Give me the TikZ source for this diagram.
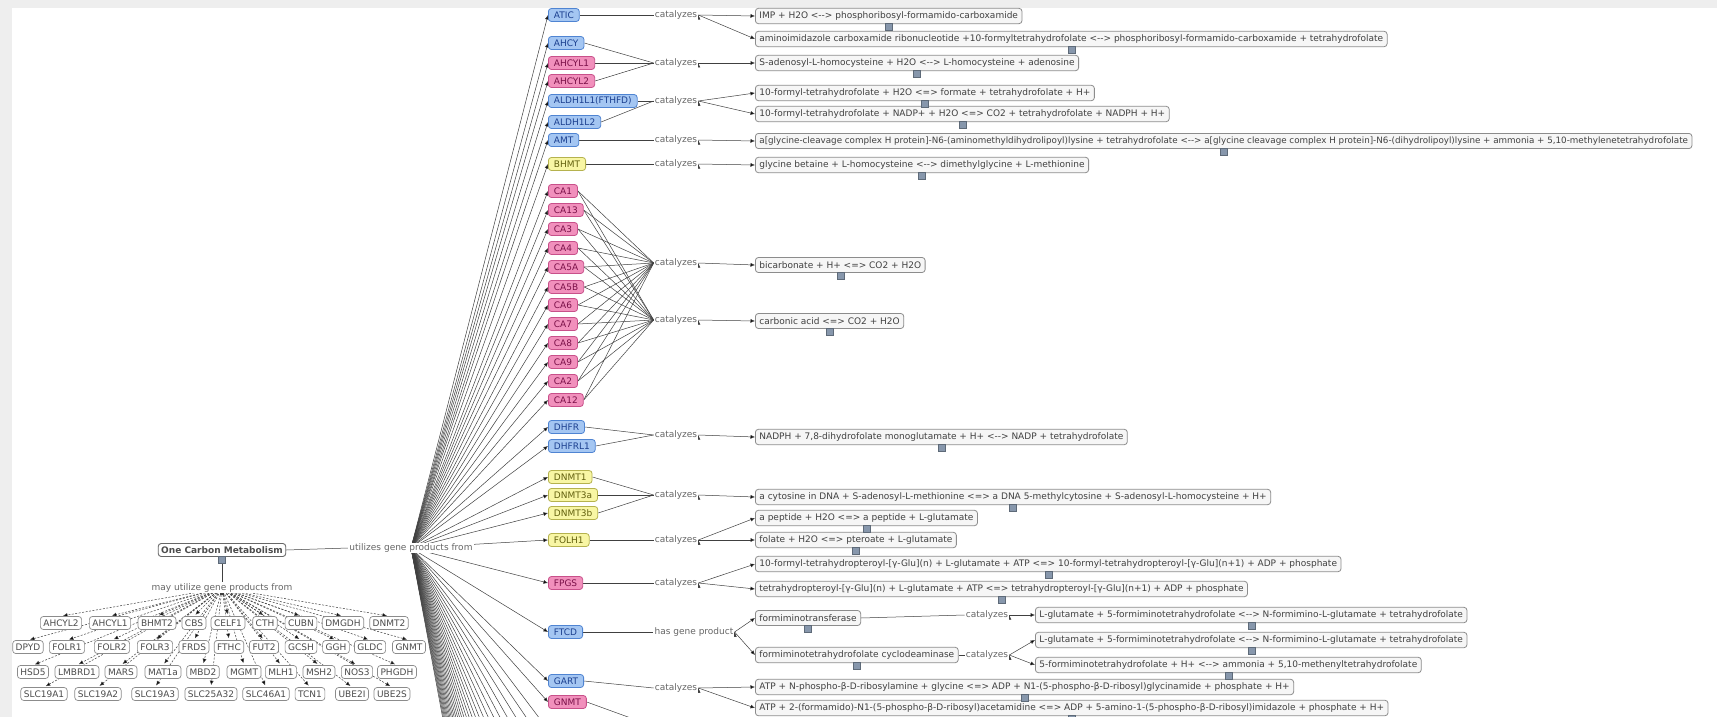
\documentclass[tikz,border=0pt]{standalone}
\usepackage{fontspec}
\setmainfont{DejaVu Sans}
\usetikzlibrary{arrows.meta}

\definecolor{pagegray}{HTML}{EEEEEE}
\definecolor{blueFill}{HTML}{A4C6F2}
\definecolor{blueLine}{HTML}{4F84D2}
\definecolor{blueText}{HTML}{1B3F8F}
\definecolor{pinkFill}{HTML}{F190BC}
\definecolor{pinkLine}{HTML}{C8508A}
\definecolor{pinkText}{HTML}{7A1048}
\definecolor{yellowFill}{HTML}{F8F6A4}
\definecolor{yellowLine}{HTML}{B5B24E}
\definecolor{yellowText}{HTML}{62600E}
\definecolor{rxnFill}{HTML}{F6F6F6}
\definecolor{rxnLine}{HTML}{8C8C8C}
\definecolor{iconFill}{HTML}{8797AC}

\pgfdeclarelayer{bg}
\pgfsetlayers{bg,main}

\newcommand{\rxarrow}{<-{}->}

\tikzset{
  gene/.style={draw, rounded corners=3pt, line width=0.8pt, minimum height=13pt, inner xsep=5.5pt, inner ysep=1.5pt, anchor=west},
  bluegene/.style={gene, fill=blueFill, draw=blueLine, text=blueText},
  pinkgene/.style={gene, fill=pinkFill, draw=pinkLine, text=pinkText},
  yellowgene/.style={gene, fill=yellowFill, draw=yellowLine, text=yellowText},
  othergene/.style={draw=rxnLine, fill=white, rounded corners=3pt, line width=0.7pt, minimum height=13pt, inner xsep=3pt, inner ysep=1.5pt, text=black!70},
  rxn/.style={draw=rxnLine, fill=rxnFill, rounded corners=3pt, line width=0.8pt, minimum height=15pt, inner xsep=4pt, anchor=west, text=black!75},
  rel/.style={fill=white, inner sep=1pt, text=black!60},
  icon/.style={fill=iconFill, draw=iconFill!70!black, minimum size=7pt, inner sep=0pt},
  link/.style={draw=black!75, line width=0.5pt},
  tip/.style={link, -{Latex[length=4.5pt,width=4pt]}},
  dashtip/.style={tip, dash pattern=on 2pt off 1.5pt, shorten >=2pt}
}

\begin{document}
\begin{tikzpicture}[x=1pt,y=-1pt,every node/.style={font=\fontsize{9}{11}\selectfont}]
    \useasboundingbox (0,0) rectangle (1717,717);

    % genes used by the pathway
    \node[bluegene] (atic) at (548,15) {ATIC};
    \node[bluegene] (ahcy) at (548,43) {AHCY};
    \node[pinkgene] (ahcyla) at (548,63) {AHCYL1};
    \node[pinkgene] (ahcylb) at (548,81) {AHCYL2};
    \node[bluegene] (aldha) at (548,101) {ALDH1L1(FTHFD)};
    \node[bluegene] (aldhb) at (548,122) {ALDH1L2};
    \node[bluegene] (amt) at (548,140) {AMT};
    \node[yellowgene] (bhmt) at (548,164) {BHMT};
    \node[pinkgene] (ca1) at (548,191) {CA1};
    \node[pinkgene] (ca13) at (548,210) {CA13};
    \node[pinkgene] (ca3) at (548,229) {CA3};
    \node[pinkgene] (ca4) at (548,248) {CA4};
    \node[pinkgene] (ca5a) at (548,267) {CA5A};
    \node[pinkgene] (ca5b) at (548,287) {CA5B};
    \node[pinkgene] (ca6) at (548,305) {CA6};
    \node[pinkgene] (ca7) at (548,324) {CA7};
    \node[pinkgene] (ca8) at (548,343) {CA8};
    \node[pinkgene] (ca9) at (548,362) {CA9};
    \node[pinkgene] (ca2) at (548,381) {CA2};
    \node[pinkgene] (ca12) at (548,400) {CA12};
    \node[bluegene] (dhfr) at (548,427) {DHFR};
    \node[bluegene] (dhfrl) at (548,446) {DHFRL1};
    \node[yellowgene] (dnmta) at (548,477) {DNMT1};
    \node[yellowgene] (dnmtb) at (548,495) {DNMT3a};
    \node[yellowgene] (dnmtc) at (548,513) {DNMT3b};
    \node[yellowgene] (folh) at (548,540) {FOLH1};
    \node[pinkgene] (fpgs) at (548,583) {FPGS};
    \node[bluegene] (ftcd) at (548,632) {FTCD};
    \node[bluegene] (gart) at (548,681) {GART};
    \node[pinkgene] (gnmt) at (548,702) {GNMT};

    % relation labels
    \node[rel] (catA) at (676,15) {catalyzes};
    \node[rel] (catB) at (676,63) {catalyzes};
    \node[rel] (catC) at (676,101) {catalyzes};
    \node[rel] (catD) at (676,140) {catalyzes};
    \node[rel] (catE) at (676,164) {catalyzes};
    \node[rel] (catF) at (676,263) {catalyzes};
    \node[rel] (catG) at (676,320) {catalyzes};
    \node[rel] (catH) at (676,435) {catalyzes};
    \node[rel] (catI) at (676,495) {catalyzes};
    \node[rel] (catJ) at (676,540) {catalyzes};
    \node[rel] (catK) at (676,583) {catalyzes};
    \node[rel] (hgp) at (694,632) {has gene product};
    \node[rel] (catL) at (676,688) {catalyzes};
    \node[rel] (catM) at (987,615) {catalyzes};
    \node[rel] (catN) at (987,655) {catalyzes};

    % reactions
    \node[rxn] (r1) at (755,16) {IMP + H2O \rxarrow{} phosphoribosyl-formamido-carboxamide};
    \node[rxn] (r2) at (755,39) {aminoimidazole carboxamide ribonucleotide +10-formyltetrahydrofolate \rxarrow{} phosphoribosyl-formamido-carboxamide + tetrahydrofolate};
    \node[rxn] (r3) at (755,63) {S-adenosyl-L-homocysteine + H2O \rxarrow{} L-homocysteine + adenosine};
    \node[rxn] (r4) at (755,93) {10-formyl-tetrahydrofolate + H2O <=> formate + tetrahydrofolate + H+};
    \node[rxn] (r5) at (755,114) {10-formyl-tetrahydrofolate + NADP+ + H2O <=> CO2 + tetrahydrofolate + NADPH + H+};
    \node[rxn, font=\fontsize{8.75}{11}\selectfont] (r6) at (755,141) {a[glycine-cleavage complex H protein]-N6-(aminomethyldihydrolipoyl)lysine + tetrahydrofolate \rxarrow{} a[glycine cleavage complex H protein]-N6-(dihydrolipoyl)lysine + ammonia + 5,10-methylenetetrahydrofolate};
    \node[rxn] (r7) at (755,165) {glycine betaine + L-homocysteine \rxarrow{} dimethylglycine + L-methionine};
    \node[rxn] (r8) at (755,265) {bicarbonate + H+ <=> CO2 + H2O};
    \node[rxn] (r9) at (755,321) {carbonic acid <=> CO2 + H2O};
    \node[rxn] (r10) at (755,437) {NADPH + 7,8-dihydrofolate monoglutamate + H+ \rxarrow{} NADP + tetrahydrofolate};
    \node[rxn] (r11) at (755,497) {a cytosine in DNA + S-adenosyl-L-methionine <=> a DNA 5-methylcytosine + S-adenosyl-L-homocysteine + H+};
    \node[rxn] (r12) at (755,518) {a peptide + H2O <=> a peptide + L-glutamate};
    \node[rxn] (r13) at (755,540) {folate + H2O <=> pteroate + L-glutamate};
    \node[rxn] (r14) at (755,564) {10-formyl-tetrahydropteroyl-[γ-Glu](n) + L-glutamate + ATP <=> 10-formyl-tetrahydropteroyl-[γ-Glu](n+1) + ADP + phosphate};
    \node[rxn] (r15) at (755,589) {tetrahydropteroyl-[γ-Glu](n) + L-glutamate + ATP <=> tetrahydropteroyl-[γ-Glu](n+1) + ADP + phosphate};
    \node[rxn] (e1) at (755,618) {formiminotransferase};
    \node[rxn] (e2) at (755,655) {formiminotetrahydrofolate cyclodeaminase};
    \node[rxn] (r16) at (1035,615) {L-glutamate + 5-formiminotetrahydrofolate \rxarrow{} N-formimino-L-glutamate + tetrahydrofolate};
    \node[rxn] (r17) at (1035,640) {L-glutamate + 5-formiminotetrahydrofolate \rxarrow{} N-formimino-L-glutamate + tetrahydrofolate};
    \node[rxn] (r18) at (1035,665) {5-formiminotetrahydrofolate + H+ \rxarrow{} ammonia + 5,10-methenyltetrahydrofolate};
    \node[rxn] (r19) at (755,687) {ATP + N-phospho-β-D-ribosylamine + glycine <=> ADP + N1-(5-phospho-β-D-ribosyl)glycinamide + phosphate + H+};
    \node[rxn] (r20) at (755,708) {ATP + 2-(formamido)-N1-(5-phospho-β-D-ribosyl)acetamidine <=> ADP + 5-amino-1-(5-phospho-β-D-ribosyl)imidazole + phosphate + H+};
    \foreach \r in {r1,r2,r3,r4,r5,r6,r7,r8,r9,r10,r11,r12,r13,r14,r15,e1,e2,r16,r17,r18,r19,r20}
        \node[icon] (i\r) at ([yshift=-3pt]\r.south) {};

    % the pathway and its gene list
    \node[othergene, draw=black!60, line width=0.9pt, font=\fontsize{9}{11}\selectfont\bfseries] (ocm) at (222,550) {One Carbon Metabolism};
    \node[icon] (iocm) at ([yshift=-3pt]ocm.south) {};
    \node[rel] (ugp) at (411,548) {utilizes gene products from};
    \node[rel] (mug) at (222,588) {may utilize gene products from};

    \node[othergene] (uAHCYL2) at (61,623) {AHCYL2};
    \node[othergene] (uAHCYL1) at (110,623) {AHCYL1};
    \node[othergene] (uBHMT2) at (157,623) {BHMT2};
    \node[othergene] (uCBS) at (194,623) {CBS};
    \node[othergene] (uCELF1) at (228,623) {CELF1};
    \node[othergene] (uCTH) at (265,623) {CTH};
    \node[othergene] (uCUBN) at (301,623) {CUBN};
    \node[othergene] (uDMGDH) at (343,623) {DMGDH};
    \node[othergene] (uDNMT2) at (389,623) {DNMT2};
    \node[othergene] (uDPYD) at (28,647) {DPYD};
    \node[othergene] (uFOLR1) at (67,647) {FOLR1};
    \node[othergene] (uFOLR2) at (112,647) {FOLR2};
    \node[othergene] (uFOLR3) at (155,647) {FOLR3};
    \node[othergene] (uFRDS) at (194,647) {FRDS};
    \node[othergene] (uFTHC) at (229,647) {FTHC};
    \node[othergene] (uFUT2) at (264,647) {FUT2};
    \node[othergene] (uGCSH) at (301,647) {GCSH};
    \node[othergene] (uGGH) at (336,647) {GGH};
    \node[othergene] (uGLDC) at (370,647) {GLDC};
    \node[othergene] (uGNMT) at (409,647) {GNMT};
    \node[othergene] (uHSD5) at (33,672) {HSD5};
    \node[othergene] (uLMBRD1) at (77,672) {LMBRD1};
    \node[othergene] (uMARS) at (121,672) {MARS};
    \node[othergene] (uMAT1a) at (163,672) {MAT1a};
    \node[othergene] (uMBD2) at (203,672) {MBD2};
    \node[othergene] (uMGMT) at (244,672) {MGMT};
    \node[othergene] (uMLH1) at (281,672) {MLH1};
    \node[othergene] (uMSH2) at (319,672) {MSH2};
    \node[othergene] (uNOS3) at (357,672) {NOS3};
    \node[othergene] (uPHGDH) at (397,672) {PHGDH};
    \node[othergene] (uSLC19A1) at (44,694) {SLC19A1};
    \node[othergene] (uSLC19A2) at (98,694) {SLC19A2};
    \node[othergene] (uSLC19A3) at (155,694) {SLC19A3};
    \node[othergene] (uSLC25A32) at (211,694) {SLC25A32};
    \node[othergene] (uSLC46A1) at (266,694) {SLC46A1};
    \node[othergene] (uTCN1) at (310,694) {TCN1};
    \node[othergene] (uUBE2I) at (352,694) {UBE2I};
    \node[othergene] (uUBE2S) at (392,694) {UBE2S};

    \coordinate (gnmtcat) at (650,725);

    \begin{pgfonlayer}{bg}
    \fill[pagegray] (0,0) rectangle (1717,717);
    \fill[white] (12,8) rectangle (1717,717);

    % pathway links
    \path[link] (ocm.east) edge (ugp.west);
    \path[link] (ocm.south) edge (mug.north);
    \foreach \g in {atic,ahcy,ahcyla,ahcylb,aldha,aldhb,amt,bhmt,ca1,ca13,ca3,ca4,ca5a,ca5b,ca6,ca7,ca8,ca9,ca2,ca12,dhfr,dhfrl,dnmta,dnmtb,dnmtc,folh,fpgs,ftcd,gart,gnmt}
        \path[tip] (ugp.center) edge (\g.west);
    % genes further down, cut off by the frame
    \foreach \i in {0,...,28} {
        \coordinate (hid\i) at (543,{723+19*\i});
        \path[tip] (ugp.center) edge (hid\i);
    }
    \foreach \g in {AHCYL2,AHCYL1,BHMT2,CBS,CELF1,CTH,CUBN,DMGDH,DNMT2,DPYD,FOLR1,FOLR2,FOLR3,FRDS,FTHC,FUT2,GCSH,GGH,GLDC,GNMT,HSD5,LMBRD1,MARS,MAT1a,MBD2,MGMT,MLH1,MSH2,NOS3,PHGDH,SLC19A1,SLC19A2,SLC19A3,SLC25A32,SLC46A1,TCN1,UBE2I,UBE2S}
        \path[dashtip] (mug.center) edge (u\g.north);

    % gene to reaction links
    \path[link] (atic.east) edge (catA.west);
    \path[tip] (catA.east) edge (r1.west);
    \path[tip] (catA.east) edge (r2.west);
    \path[link] (ahcy.east) edge (catB.west);
    \path[link] (ahcyla.east) edge (catB.west);
    \path[link] (ahcylb.east) edge (catB.west);
    \path[tip] (catB.east) edge (r3.west);
    \path[link] (aldha.east) edge (catC.west);
    \path[link] (aldhb.east) edge (catC.west);
    \path[tip] (catC.east) edge (r4.west);
    \path[tip] (catC.east) edge (r5.west);
    \path[link] (amt.east) edge (catD.west);
    \path[tip] (catD.east) edge (r6.west);
    \path[link] (bhmt.east) edge (catE.west);
    \path[tip] (catE.east) edge (r7.west);
    \foreach \g in {ca1,ca13,ca3,ca4,ca5a,ca5b,ca6,ca7,ca8,ca9,ca2,ca12} {
        \path[link] (\g.east) edge (catF.west);
        \path[link] (\g.east) edge (catG.west);
    }
    \path[tip] (catF.east) edge (r8.west);
    \path[tip] (catG.east) edge (r9.west);
    \path[link] (dhfr.east) edge (catH.west);
    \path[link] (dhfrl.east) edge (catH.west);
    \path[tip] (catH.east) edge (r10.west);
    \path[link] (dnmta.east) edge (catI.west);
    \path[link] (dnmtb.east) edge (catI.west);
    \path[link] (dnmtc.east) edge (catI.west);
    \path[tip] (catI.east) edge (r11.west);
    \path[link] (folh.east) edge (catJ.west);
    \path[tip] (catJ.east) edge (r12.west);
    \path[tip] (catJ.east) edge (r13.west);
    \path[link] (fpgs.east) edge (catK.west);
    \path[tip] (catK.east) edge (r14.west);
    \path[tip] (catK.east) edge (r15.west);
    \path[link] (ftcd.east) edge (hgp.west);
    \path[tip] (hgp.east) edge (e1.west);
    \path[tip] (hgp.east) edge (e2.west);
    \path[link] (e1.east) edge (catM.west);
    \path[tip] (catM.east) edge (r16.west);
    \path[link] (e2.east) edge (catN.west);
    \path[tip] (catN.east) edge (r17.west);
    \path[tip] (catN.east) edge (r18.west);
    \path[link] (gart.east) edge (catL.west);
    \path[tip] (catL.east) edge (r19.west);
    \path[tip] (catL.east) edge (r20.west);
    \path[link] (gnmt.east) edge (gnmtcat);
    \end{pgfonlayer}
\end{tikzpicture}
\end{document}
